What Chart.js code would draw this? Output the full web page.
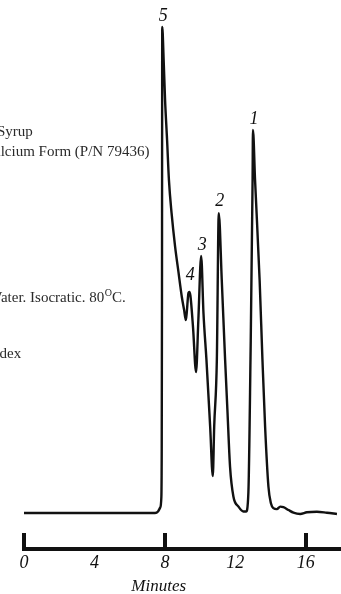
<!DOCTYPE html>
<html>
<head>
<meta charset="utf-8">
<script src="https://cdn.jsdelivr.net/npm/chart.js@4.4.1/dist/chart.umd.min.js"></script>
<style>
html,body{margin:0;padding:0;background:#fff;}
#wrap{width:341px;height:594px;position:relative;}
</style>
</head>
<body>
<div id="wrap"><canvas id="c" width="341" height="594"></canvas></div>
<script>
// Chromatogram trace: retention time (minutes) and detector response (relative units)
const timeMin = [0, 6.59, 7.44, 7.61, 7.73, 7.80, 7.82, 7.835, 7.85, 7.93, 8.01, 8.125, 8.23, 8.38, 8.58, 8.77, 8.96, 9.09, 9.19, 9.24, 9.34, 9.39, 9.45, 9.60, 9.77, 9.90, 10.06, 10.19, 10.36, 10.57, 10.72, 10.80, 10.95, 11.06, 11.23, 11.42, 11.55, 11.70, 11.89, 12.18, 12.46, 12.61, 12.74, 12.86, 12.98, 13.0, 13.12, 13.38, 13.54, 13.69, 13.88, 14.02, 14.16, 14.36, 14.55, 14.73, 15.02, 15.30, 15.68, 16.06, 16.63, 17.20, 17.77];
const response = [0, 0, 0, 0.3, 1.1, 3.3, 13.0, 43.8, 100, 93.2, 85.0, 76.7, 68.5, 61.7, 54.8, 49.6, 44.5, 41.8, 39.7, 41.2, 45.3, 45.5, 44.7, 38.1, 29.0, 39.7, 52.9, 41.2, 31.5, 17.8, 7.6, 17.8, 31.5, 61.7, 47.9, 31.5, 21.2, 9.5, 3.4, 1.3, 0.3, 0.3, 4.1, 31.5, 68.5, 78.8, 68.5, 47.9, 31.5, 17.8, 5.4, 2.0, 1.0, 0.8, 1.3, 1.2, 0.6, 0.06, -0.2, 0.14, 0.27, 0.06, -0.2];

// Peak identification labels
const peakLabels = ['1', '2', '3', '4', '5'];
const peakTime = [13.0, 11.06, 10.06, 9.39, 7.85];
const peakResp = [78.8, 61.7, 52.9, 45.5, 100];

// Axis ticks
const tickLabels = [0, 4, 8, 12, 16];
const majorTicks = [0, 8, 16];
const xTitle = 'Minutes';

// Condition notes (left side, cropped in the original)
const notes = ['Syrup', 'Calcium Form (P/N 79436)', 'Water. Isocratic. 80', 'Index'];

const points = timeMin.map((t, i) => ({x: t, y: response[i]}));

const serif = "'Liberation Serif', 'Times New Roman', serif";

const overlay = {
  id: 'overlay',
  afterDraw(chart) {
    const ctx = chart.ctx;
    const xs = chart.scales.x, ys = chart.scales.y;
    ctx.save();
    // upward tick marks at 0, 8, 16
    ctx.fillStyle = '#111';
    majorTicks.forEach(v => {
      const px = xs.getPixelForValue(v);
      ctx.fillRect(Math.round(px) - 2, xs.top - 16, 4, 17);
    });
    // axis title
    ctx.font = 'italic 17px ' + serif;
    ctx.textAlign = 'center';
    ctx.textBaseline = 'middle';
    ctx.fillText(xTitle, xs.getPixelForValue(7.65), 587);
    // peak labels
    ctx.font = 'italic 18px ' + serif;
    const dy = [-11, -12, -11, -17, -11];
    peakLabels.forEach((lab, i) => {
      const px = xs.getPixelForValue(peakTime[i]);
      const py = ys.getPixelForValue(peakResp[i]);
      ctx.fillText(lab, px + 1, py + dy[i]);
    });
    // notes
    ctx.fillStyle = '#2a2a2a';
    ctx.font = '15px ' + serif;
    ctx.textAlign = 'left';
    ctx.textBaseline = 'alphabetic';
    ctx.fillText(notes[0], -3, 136);
    ctx.fillText(notes[1], -16, 156);
    ctx.fillText(notes[2], -12, 302);
    let w = ctx.measureText(notes[2]).width - 12;
    ctx.font = '10px ' + serif;
    ctx.fillText('O', w + 0.5, 296);
    w += ctx.measureText('O').width + 0.5;
    ctx.font = '15px ' + serif;
    ctx.fillText('C.', w, 302);
    ctx.fillText(notes[3], -13, 358);
    ctx.restore();
  }
};

new Chart(document.getElementById('c'), {
  type: 'line',
  data: {
    datasets: [{
      data: points,
      borderColor: '#111',
      borderWidth: 2.4,
      pointRadius: 0,
      fill: false,
      cubicInterpolationMode: 'monotone',
      clip: false
    }]
  },
  options: {
    responsive: false,
    animation: false,
    events: [],
    layout: {padding: {left: 24, right: 0, top: 0, bottom: 0}},
    plugins: {legend: {display: false}, tooltip: {enabled: false}},
    scales: {
      x: {
        type: 'linear',
        min: 0,
        max: 18,
        grid: {display: false, drawTicks: false},
        border: {display: true, color: '#111', width: 4},
        ticks: {
          stepSize: 4,
          includeBounds: false,
          autoSkip: false,
          maxRotation: 0,
          padding: 5,
          color: '#111',
          font: {family: serif, size: 18, style: 'italic', lineHeight: 1}
        },
        title: {display: false},
        afterFit(scale) { scale.height = 45; }
      },
      y: {
        display: false,
        min: -7.41,
        max: 105.56
      }
    }
  },
  plugins: [overlay]
});
</script>
</body>
</html>
